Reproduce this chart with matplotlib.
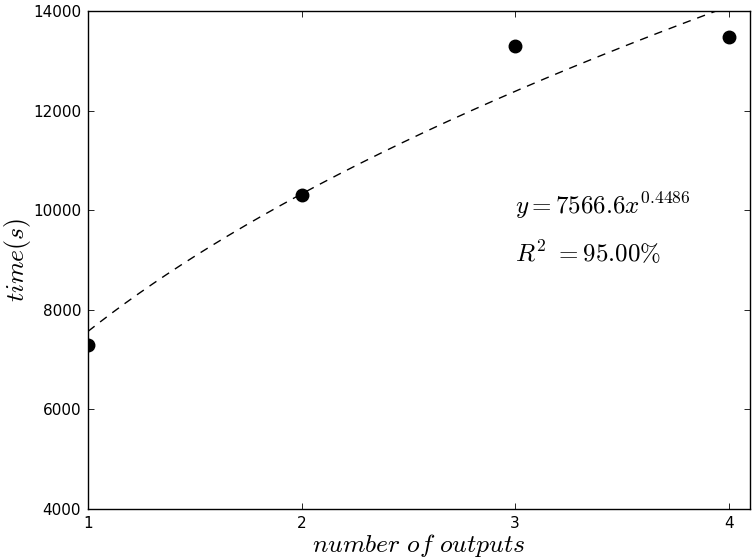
import numpy as np
import matplotlib
matplotlib.use("Agg")
import matplotlib.pyplot as plt

plt.rcParams['mathtext.fontset'] = 'cm'
plt.rcParams['font.family'] = ['DejaVu Sans']

# Measured run times per number of outputs
n_outputs = [1, 2, 3, 4]
run_time = [7290, 10300, 13290, 13470]

# Power-law fit y = a * x^b
fit_a = 7566.6
fit_b = 0.4486
fit_r2 = 95.00

fig = plt.figure(figsize=(7.53, 5.6), dpi=100)
ax = fig.add_axes([0.1169, 0.0911, 0.8791, 0.8893])

x_fit = np.linspace(1, 4.1, 300)
ax.plot(x_fit, fit_a * x_fit ** fit_b, color='black', linewidth=1.0,
        linestyle=(0, (6, 5)))
ax.plot(n_outputs, run_time, 'o', color='black', markersize=9)

ax.set_xlim(1, 4.1)
ax.set_ylim(4000, 14000)
ax.set_xticks([1, 2, 3, 4])
ax.set_yticks([4000, 6000, 8000, 10000, 12000, 14000])

ax.tick_params(direction='in', length=4, width=0.6, labelsize=11,
               top=True, right=True, pad=5)
for s in ax.spines.values():
    s.set_linewidth(1.0)

ax.set_xlabel(r'$number\ of\ outputs$', fontsize=18.5, labelpad=1)
ax.set_ylabel(r'$time(s)$', fontsize=18.5, labelpad=0)

ax.text(3.0, 9920, r'$y = %.1f x^{%.4f}$' % (fit_a, fit_b), fontsize=18)
ax.text(3.0, 8960, r'$R^2\ = %.2f\%%$' % fit_r2, fontsize=18)

fig.savefig('out.png', dpi=100)
